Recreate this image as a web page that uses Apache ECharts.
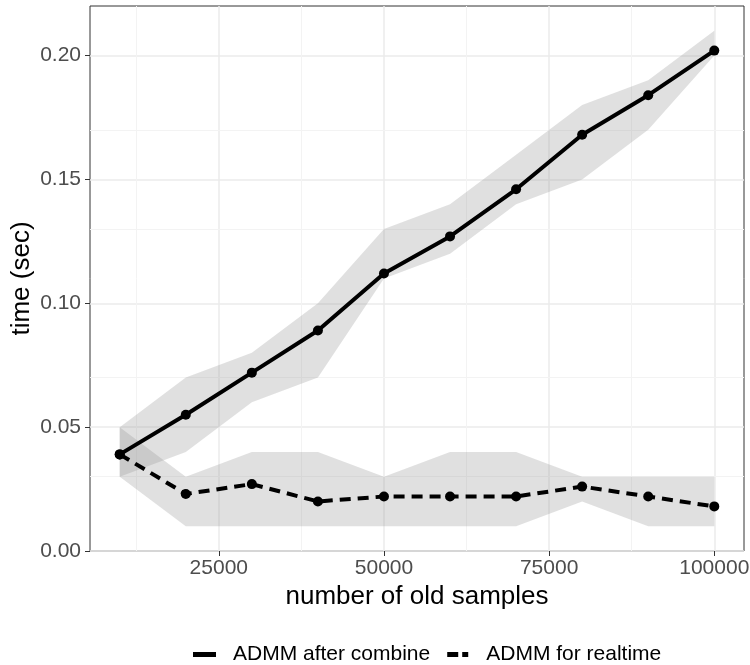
<!DOCTYPE html>
<html>
<head>
<meta charset="utf-8">
<script src="https://cdn.jsdelivr.net/npm/echarts@6/dist/echarts.min.js"></script>
<style>
  html, body { margin: 0; padding: 0; background: #fff; }
  #chart { width: 750px; height: 665px; }
</style>
</head>
<body>
<div id="chart"></div>
<script>
var samples = [10000, 20000, 30000, 40000, 50000, 60000, 70000, 80000, 90000, 100000];

var combineTime = [0.039, 0.055, 0.072, 0.089, 0.112, 0.127, 0.146, 0.168, 0.184, 0.202];
var combineLow  = [0.03, 0.04, 0.06, 0.07, 0.11, 0.12, 0.14, 0.15, 0.17, 0.20];
var combineHigh = [0.05, 0.07, 0.08, 0.10, 0.13, 0.14, 0.16, 0.18, 0.19, 0.21];

var realtimeTime = [0.039, 0.023, 0.027, 0.020, 0.022, 0.022, 0.022, 0.026, 0.022, 0.018];
var realtimeLow  = [0.03, 0.01, 0.01, 0.01, 0.01, 0.01, 0.01, 0.02, 0.01, 0.01];
var realtimeHigh = [0.05, 0.03, 0.04, 0.04, 0.03, 0.04, 0.04, 0.03, 0.03, 0.03];

var xTicks = [25000, 50000, 75000, 100000];
var xMinor = [12500, 37500, 62500, 87500];
var yTicks = [0, 0.05, 0.10, 0.15, 0.20];
var yMinor = [0.025, 0.075, 0.125, 0.175];

var font = "'Liberation Sans', Arial, sans-serif";
var ribbonFill = 'rgba(153,153,153,0.3)';

function pairs(ys) {
  return samples.map(function (x, i) { return [x, ys[i]]; });
}
function band(lo, hi) {
  return samples.map(function (x, i) { return [x, lo[i], hi[i]]; });
}

// one polygon per ribbon: upper edge left->right, then lower edge back
function renderRibbon(params, api) {
  if (params.dataIndexInside !== 0) return null;
  var n = params.dataInsideLength;
  var top = [], bottom = [];
  for (var i = 0; i < n; i++) {
    top.push(api.coord([api.value(0, i), api.value(2, i)]));
    bottom.unshift(api.coord([api.value(0, i), api.value(1, i)]));
  }
  return {
    type: 'polygon',
    shape: { points: top.concat(bottom) },
    style: { fill: ribbonFill }
  };
}

var gridLinesMajor = xTicks.map(function (v) { return { xAxis: v }; });
var gridLinesMinor = [];
xMinor.forEach(function (v) { gridLinesMinor.push({ xAxis: v }); });
yMinor.forEach(function (v) { gridLinesMinor.push({ yAxis: v }); });

var chart = echarts.init(document.getElementById('chart'));

var options = {
  animation: false,
  grid: {
    left: 90, top: 6, right: 6, bottom: 114,
    outerBoundsMode: 'none', containLabel: false,
    show: true, borderColor: '#333', borderWidth: 1, backgroundColor: '#fff'
  },
  legend: {
    left: 193, top: 644, padding: 0,
    itemWidth: 23, itemHeight: 5, itemGap: 17,
    textStyle: { fontFamily: font, fontSize: 21, color: '#000', padding: [0, 0, 0, 12] },
    data: [
      { name: 'ADMM after combine', icon: 'path://M0,0H23V5H0Z' },
      { name: 'ADMM for realtime', icon: 'path://M0,0H11V5H0Z M15,0H21V5H15Z' }
    ]
  },
  xAxis: {
    type: 'value',
    min: 5500, max: 104500,
    name: 'number of old samples',
    nameLocation: 'middle', nameGap: 30,
    nameTextStyle: { fontFamily: font, fontSize: 26, color: '#000' },
    axisLine: { show: false },
    axisTick: { show: true, length: 5, customValues: xTicks, lineStyle: { color: '#333', width: 1 } },
    axisLabel: {
      customValues: xTicks, margin: 7, fontFamily: font, fontSize: 21, color: '#4d4d4d',
      formatter: function (v) { return String(v); }
    },
    splitLine: { show: false }
  },
  yAxis: {
    type: 'value',
    min: 0, max: 0.22, interval: 0.05,
    name: 'time (sec)',
    nameLocation: 'middle', nameGap: 55, nameRotate: 90, nameMoveOverlap: false,
    nameTextStyle: { fontFamily: font, fontSize: 26, color: '#000' },
    axisLine: { show: false },
    axisTick: { show: true, length: 5, customValues: yTicks, lineStyle: { color: '#333', width: 1 } },
    axisLabel: {
      customValues: yTicks, margin: 9, fontFamily: font, fontSize: 21, color: '#4d4d4d',
      formatter: function (v) { return v.toFixed(2); }
    },
    splitLine: { show: true, lineStyle: { color: '#ebebeb', width: 1.5 } }
  },
  series: [
    {
      name: 'grid', type: 'line', z: 1, silent: true,
      data: pairs(combineTime), symbol: 'none',
      lineStyle: { opacity: 0 },
      markLine: {
        silent: true, symbol: 'none', label: { show: false },
        emphasis: { disabled: true },
        lineStyle: { color: '#ebebeb', width: 1.5, type: 'solid' },
        data: gridLinesMajor.concat(gridLinesMinor.map(function (d) {
          return Object.assign({ lineStyle: { color: '#f3f3f3', width: 1, type: 'solid' } }, d);
        }))
      }
    },
    {
      name: 'combineBand', type: 'custom', z: 6, silent: true,
      renderItem: renderRibbon,
      encode: { x: 0, y: [1, 2] },
      data: band(combineLow, combineHigh)
    },
    {
      name: 'realtimeBand', type: 'custom', z: 6, silent: true,
      renderItem: renderRibbon,
      encode: { x: 0, y: [1, 2] },
      data: band(realtimeLow, realtimeHigh)
    },
    {
      name: 'ADMM after combine', type: 'line', z: 8,
      data: pairs(combineTime),
      symbol: 'circle', symbolSize: 10, showAllSymbol: true,
      itemStyle: { color: '#000' },
      lineStyle: { color: '#000', width: 4, type: 'solid' }
    },
    {
      name: 'ADMM for realtime', type: 'line', z: 8,
      data: pairs(realtimeTime),
      symbol: 'circle', symbolSize: 10, showAllSymbol: true,
      itemStyle: { color: '#000' },
      lineStyle: { color: '#000', width: 4, type: [11, 7] }
    }
  ]
};

chart.setOption(options);
</script>
</body>
</html>
